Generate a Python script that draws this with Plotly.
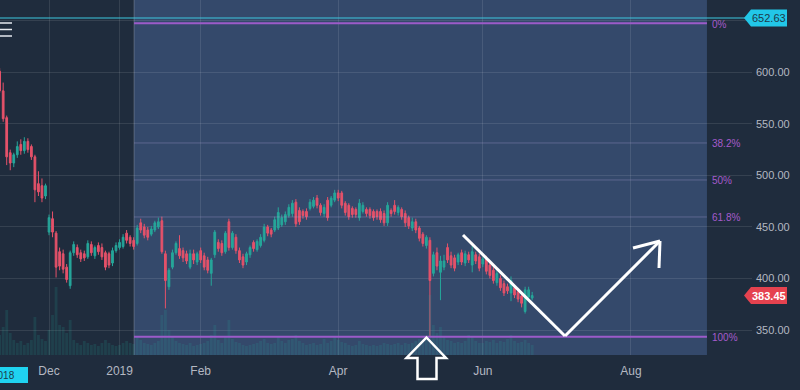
import pandas as pd
import plotly.graph_objects as go

# ---------------- data ----------------
HOLIDAYS = ["2018-11-23", "2018-12-25", "2019-03-04", "2019-03-21", "2019-04-17",
            "2019-04-19", "2019-04-29", "2019-05-01", "2019-06-05"]
START_DATE, END_DATE = "2018-11-12", "2019-06-24"

OPEN = [601, 582, 556, 522, 512, 520, 530, 524, 533, 528, 518, 492, 490, 480,
        445, 458, 444, 426, 424, 411, 393, 425, 430, 425, 424, 421, 433, 422, 432, 430, 425, 424, 415, 427,
        430, 431, 444, 440, 437, 434, 454, 450, 447, 443, 447, 450, 456, 424, 392, 411, 425, 429, 427, 424, 411, 424, 416,
        427, 422, 418, 405, 423, 435, 434, 426, 455, 430, 440, 427, 421, 416, 423, 435, 428, 432, 437, 450,
        447, 447, 449, 452, 455, 461, 463, 474, 466, 465, 465, 468, 470, 478, 471, 463, 476, 471, 476,
        483, 483, 473, 471, 468, 467, 459, 465, 467, 467, 465, 465, 465, 463, 454, 466, 471, 464, 467,
        463, 459, 449, 455, 449, 443, 432, 437, 405, 425, 406, 411, 430, 422, 420, 416, 425, 415, 423, 413, 423, 421,
        414, 419, 413, 408, 396, 400, 395, 392, 386, 391, 387, 383, 368, 382, 381]
HIGH = [604, 590, 558, 525, 522, 533, 535, 537, 536, 530, 520, 504, 497, 492,
        462, 465, 446, 430, 428, 414, 427, 436, 433, 428, 427, 437, 436, 432, 435, 434, 427, 426, 430, 435,
        438, 443, 447, 442, 440, 452, 458, 453, 450, 451, 456, 459, 460, 427, 410, 428, 436, 442, 430, 427, 428, 428, 426,
        430, 425, 421, 420, 447, 438, 437, 446, 458, 446, 443, 430, 424, 426, 432, 437, 438, 443, 453, 452,
        449, 460, 469, 462, 465, 472, 476, 477, 469, 467, 468, 477, 479, 481, 473, 472, 479, 480, 486,
        486, 485, 475, 473, 470, 469, 477, 474, 469, 469, 467, 467, 468, 466, 474, 468, 476, 471, 469,
        466, 461, 459, 458, 451, 445, 442, 440, 426, 430, 422, 423, 434, 426, 423, 425, 428, 427, 426, 432, 426, 424,
        421, 422, 415, 411, 408, 403, 398, 395, 402, 393, 390, 386, 392, 392, 387]
LOW = [580, 552, 510, 505, 508, 517, 520, 521, 522, 515, 474, 480, 474, 477,
       442, 440, 401, 408, 405, 396, 390, 422, 420, 416, 417, 419, 422, 419, 423, 418, 408, 410, 412, 425,
       428, 429, 434, 431, 428, 432, 444, 439, 437, 441, 445, 448, 424, 371, 389, 409, 423, 419, 416, 414, 409, 414, 413,
       415, 408, 405, 393, 420, 426, 422, 424, 427, 428, 424, 415, 410, 413, 420, 426, 426, 430, 435, 441,
       440, 445, 447, 450, 452, 459, 460, 450, 452, 458, 457, 466, 468, 468, 461, 460, 456, 469, 474,
       475, 468, 461, 457, 459, 459, 456, 463, 460, 458, 456, 457, 454, 451, 451, 460, 462, 461, 457,
       450, 448, 446, 444, 436, 431, 429, 343.5, 402, 408, 379, 408, 415, 410, 407, 413, 413, 412, 415, 406, 414, 407,
       411, 404, 400, 395, 393, 388, 383, 385, 378, 381, 377, 372, 366, 379, 379]
CLOSE = [582, 555, 518, 512, 520, 528, 524, 533, 525, 518, 486, 484, 478, 490,
         459, 445, 411, 412, 409, 399, 425, 433, 423, 419, 420, 434, 425, 430, 426, 421, 411, 413, 427, 432,
         435, 440, 437, 434, 431, 449, 447, 442, 440, 448, 454, 455, 426, 398, 408, 425, 434, 422, 420, 417, 424, 418, 424,
         418, 411, 408, 418, 445, 429, 425, 444, 430, 444, 427, 418, 413, 424, 430, 429, 436, 440, 450, 444,
         443, 457, 464, 459, 462, 469, 473, 453, 455, 461, 460, 474, 476, 471, 464, 469, 459, 478, 483,
         478, 471, 464, 460, 462, 462, 473, 471, 463, 461, 459, 460, 457, 454, 471, 463, 465, 469, 460,
         454, 451, 455, 447, 439, 434, 440, 398, 423, 412, 417, 417, 418, 413, 410, 423, 416, 424, 418, 426, 417, 410,
         419, 407, 403, 398, 405, 391, 386, 388, 398, 384, 380, 376, 389, 389, 383.45]
VOLUME = [20, 28, 45, 22, 15, 12, 14, 10, 12, 15, 38, 20, 16, 14,
          25, 40, 68, 30, 28, 22, 35, 15, 12, 10, 14, 12, 10, 11, 9, 12, 15, 12, 10, 9,
          10, 12, 14, 12, 11, 18, 15, 12, 11, 10, 12, 14, 40, 45, 25, 18, 14, 12, 11, 10, 12, 9, 10,
          11, 12, 14, 20, 30, 15, 12, 18, 35, 16, 13, 12, 10, 9, 10, 11, 12, 14, 16, 12,
          11, 12, 18, 14, 12, 15, 16, 20, 14, 12, 10, 11, 12, 10, 11, 16, 12, 14, 18,
          15, 13, 12, 10, 9, 10, 14, 11, 10, 9, 10, 9, 10, 12, 11, 10, 11, 12, 10,
          12, 11, 12, 14, 16, 15, 18, 60, 30, 22, 28, 18, 15, 14, 12, 13, 12, 14, 20, 18, 14, 12,
          12, 14, 13, 15, 12, 14, 13, 16, 20, 14, 12, 13, 15, 12, 10]

TICK_DATES = ["2018-12-03", "2019-01-01", "2019-02-01", "2019-04-01", "2019-06-03", "2019-08-01"]
TICK_TEXT = ["Dec", "2019", "Feb", "Apr", "Jun", "Aug"]
PRICE_TICKS = [350, 400, 450, 500, 550, 600, 650]
PRICE_TICK_TEXT = ["350.00", "400.00", "450.00", "500.00", "550.00", "600.00", ""]

FIB_HIGH, FIB_LOW = 647.6, 343.5
FIB_LEVELS = [0.0, 0.382, 0.5, 0.618, 1.0]
FIB_LABELS = ["0%", "38.2%", "50%", "61.8%", "100%"]
FIB_START, FIB_END = "2019-01-07 14:40", "2019-09-02 01:30"
HLINE_PRICE = 652.63
LAST_PRICE = CLOSE[-1]
X_RANGE = ["2018-11-12 14:24", "2019-09-18 20:00"]
Y_RANGE = [325.8, 670.1]

# ---------------- figure ----------------
dates = [d for d in pd.bdate_range(START_DATE, END_DATE) if d.strftime("%Y-%m-%d") not in HOLIDAYS]
xs = [d + pd.Timedelta(hours=12) for d in dates]
assert len(xs) == len(CLOSE)

BG = "#1f2c3d"
FIB_BG = "#34496b"
GRID = "rgba(255,255,255,0.10)"
TXT = "#b4b8c2"
PURPLE = "#9c5bc9"
W, H = 800, 390
ML, MR, MT, MB = 0, 48, 0, 35
PW, PH = W - ML - MR, H - MT - MB


def px(x):
    return x / PW


def py(y):
    return (PH - y) / PH


fig = go.Figure()
fig.add_trace(go.Bar(x=xs, y=VOLUME, yaxis="y2", marker_color="rgba(38,166,154,0.17)",
                     marker_line_width=0, hoverinfo="skip"))
fig.add_trace(go.Candlestick(
    x=xs, open=OPEN, high=HIGH, low=LOW, close=CLOSE, whiskerwidth=0,
    increasing=dict(line=dict(color="#26a69a", width=1), fillcolor="#26a69a"),
    decreasing=dict(line=dict(color="#e5526a", width=1), fillcolor="#e5526a"),
))

shapes = []
# fib background
shapes.append(dict(type="rect", xref="x", yref="paper", x0=FIB_START, x1=FIB_END, y0=0, y1=1,
                   fillcolor=FIB_BG, line_width=0, layer="below"))
shapes.append(dict(type="line", xref="x", yref="paper", x0=FIB_START, x1=FIB_START, y0=0, y1=1,
                   line=dict(color="rgba(255,255,255,0.22)", width=1), layer="below"))
annotations = []
for lvl, lab in zip(FIB_LEVELS, FIB_LABELS):
    price = FIB_HIGH - lvl * (FIB_HIGH - FIB_LOW)
    edge = lvl in (0.0, 1.0)
    shapes.append(dict(type="line", xref="x", yref="y", x0=FIB_START, x1=FIB_END, y0=price, y1=price,
                       line=dict(color=PURPLE if edge else "rgba(190,170,230,0.30)", width=2 if edge else 1)))
    annotations.append(dict(x=FIB_END, y=price, xref="x", yref="y", text=lab, showarrow=False,
                            xanchor="left", xshift=3, yshift=-1,
                            font=dict(color="#a55bcc", size=10, family="Liberation Sans, Arial")))

# horizontal line + price tags
shapes.append(dict(type="line", xref="paper", yref="y", x0=0, x1=px(746), y0=HLINE_PRICE, y1=HLINE_PRICE,
                   line=dict(color="#3cc8e0", width=1)))
unit = (Y_RANGE[1] - Y_RANGE[0]) / PH


def tag(price, color, txtcolor, bold=False):
    hh = 8.5 * unit
    path = (f"M {px(744)},{price} L {px(751)},{price + hh} L {px(787)},{price + hh} "
            f"L {px(787)},{price - hh} L {px(751)},{price - hh} Z")
    shapes.append(dict(type="path", xref="paper", yref="y", path=path, fillcolor=color, line_width=0))
    annotations.append(dict(x=px(769), y=price, xref="paper", yref="y",
                            text=(f"<b>{price:.2f}</b>" if bold else f"{price:.2f}"),
                            showarrow=False, xanchor="center",
                            font=dict(color=txtcolor, size=11, family="Liberation Sans, Arial")))


tag(HLINE_PRICE, "#22c7e8", "#1d3a4a")
tag(LAST_PRICE, "#e5424f", "#ffffff", bold=True)

# white drawings (V arrow)
wline = dict(color="white", width=3)
for (x0, y0, x1, y1) in [(463, 235, 565, 336), (565, 336, 660, 241), (660, 241, 633, 248), (660, 241, 659, 268)]:
    shapes.append(dict(type="line", xref="paper", yref="paper", x0=px(x0), y0=py(y0), x1=px(x1), y1=py(y1),
                       line=wline))
# hollow up arrow
pts = [(426.5, 337.5), (446, 358), (436.5, 358), (436.5, 379), (417.5, 379), (417.5, 358), (406.5, 358)]
path = "M " + " L ".join(f"{px(a)},{py(b)}" for a, b in pts) + " Z"
shapes.append(dict(type="path", xref="paper", yref="paper", path=path, line=dict(color="white", width=2.5)))
# menu icon
for yy in (23, 29.5, 36):
    shapes.append(dict(type="line", xref="paper", yref="paper", x0=0, x1=px(12), y0=py(yy), y1=py(yy),
                       line=dict(color="#e6e9ef", width=1.5)))
# cut-off date box at bottom-left
shapes.append(dict(type="rect", xref="paper", yref="paper", x0=px(-20), x1=px(28), y0=py(367), y1=py(383),
                   fillcolor="#1fd3f0", line_width=0))
annotations.append(dict(x=px(17), y=py(375), xref="paper", yref="paper", text="2018", showarrow=False,
                        xanchor="right", yanchor="middle",
                        font=dict(color="#1d3a4a", size=10, family="Liberation Sans, Arial")))

fig.update_layout(
    width=W, height=H, margin=dict(l=ML, r=MR, t=MT, b=MB, autoexpand=False),
    paper_bgcolor=BG, plot_bgcolor=BG, showlegend=False, hovermode=False,
    shapes=shapes, annotations=annotations, bargap=0.2,
    xaxis=dict(type="date", range=X_RANGE, rangeslider=dict(visible=False),
               rangebreaks=[dict(bounds=["sat", "mon"]), dict(values=HOLIDAYS)],
               tickvals=[d + " 12:00" for d in TICK_DATES], ticktext=TICK_TEXT,
               showgrid=True, gridcolor=GRID, gridwidth=1, zeroline=False, showline=False, ticks="",
               ticklabelstandoff=7, tickfont=dict(color=TXT, size=12, family="Liberation Sans, Arial")),
    yaxis=dict(side="right", range=Y_RANGE, tickvals=PRICE_TICKS, ticktext=PRICE_TICK_TEXT,
               showgrid=True, gridcolor=GRID, gridwidth=1, zeroline=False, showline=False, ticks="",
               ticklabelstandoff=3, tickfont=dict(color=TXT, size=11, family="Liberation Sans, Arial")),
    yaxis2=dict(overlaying="y", range=[0, PH], visible=False, fixedrange=True),
)

fig.write_html("out.html", config={"displayModeBar": False},
               post_script="document.body.style.margin='0';document.body.style.background='" + BG + "';")
